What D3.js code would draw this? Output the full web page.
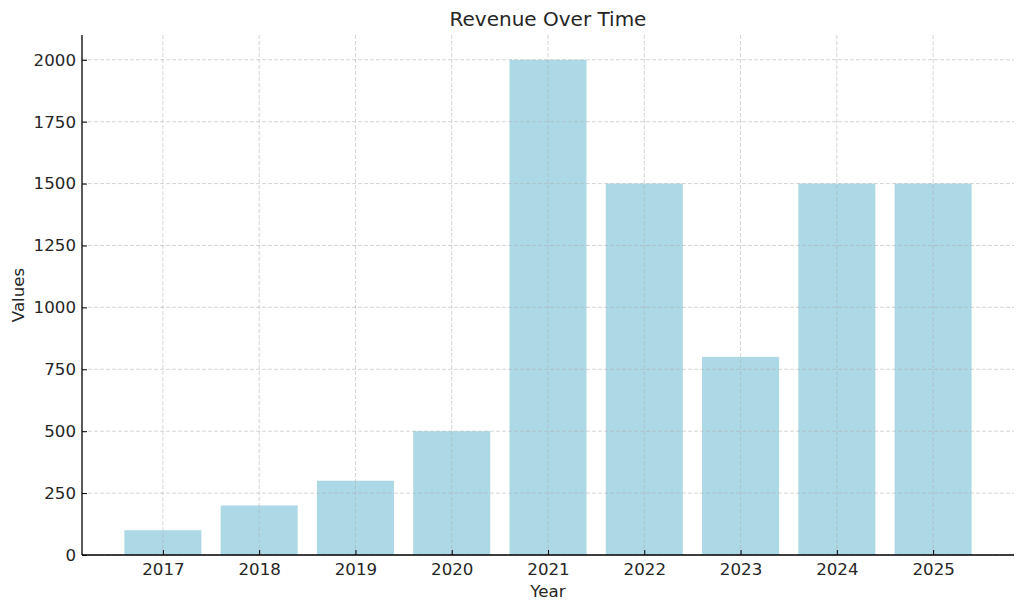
<!DOCTYPE html>
<html>
<head>
<meta charset="utf-8">
<script src="https://cdn.jsdelivr.net/npm/d3@7"></script>
<style>
  html, body { margin: 0; padding: 0; background: #fff; }
  svg { display: block; }
  text { font-family: "DejaVu Sans", sans-serif; fill: #262626; }
</style>
</head>
<body>
<svg id="chart" width="1024" height="611"></svg>
<script>
const years = ["2017", "2018", "2019", "2020", "2021", "2022", "2023", "2024", "2025"];
const revenue = [100, 200, 300, 500, 2000, 1500, 800, 1500, 1500];
const yTicks = [0, 250, 500, 750, 1000, 1250, 1500, 1750, 2000];

const W = 1024, H = 611;
const mLeft = 82, mRight = 1014, mTop = 35, mBottom = 555;
const svg = d3.select("#chart");

// matplotlib-like categorical scale: index-based with margins
const x = d3.scaleLinear().domain([-0.84, years.length - 1 + 0.84]).range([mLeft, mRight]);
const y = d3.scaleLinear().domain([0, 2100]).range([mBottom, mTop]);
const barW = x(0.8) - x(0);

// bars
svg.append("g").selectAll("rect").data(revenue).join("rect")
  .attr("x", (d, i) => x(i) - barW / 2)
  .attr("y", d => y(d))
  .attr("width", barW)
  .attr("height", d => y(0) - y(d))
  .attr("fill", "#add8e6");

// grid (drawn over bars)
const grid = svg.append("g");
grid.selectAll("line.h").data(yTicks).join("line")
  .attr("class", "h")
  .attr("x1", mLeft).attr("x2", mRight)
  .attr("y1", d => y(d)).attr("y2", d => y(d))
  .attr("stroke", "#b0b0b0").attr("stroke-opacity", 0.6)
  .attr("stroke-width", 0.9).attr("stroke-dasharray", "4,2");
grid.selectAll("line.v").data(years).join("line")
  .attr("class", "v")
  .attr("x1", (d, i) => x(i)).attr("x2", (d, i) => x(i))
  .attr("y1", mTop).attr("y2", mBottom)
  .attr("stroke", "#b0b0b0").attr("stroke-opacity", 0.6)
  .attr("stroke-width", 0.9).attr("stroke-dasharray", "4,2");

// axes via d3
const xAxis = d3.axisBottom(x).tickValues(d3.range(years.length))
  .tickFormat(i => years[i]).tickSizeInner(-5).tickSizeOuter(0).tickPadding(8);
const gx = svg.append("g").attr("transform", `translate(0,${mBottom})`).call(xAxis);
gx.select(".domain").remove();
gx.selectAll("line").attr("stroke", "#000").attr("stroke-width", 1);
gx.selectAll("text").attr("font-size", "16.67px").attr("fill", "#262626")
  .attr("font-family", "DejaVu Sans");

const yAxis = d3.axisLeft(y).tickValues(yTicks).tickFormat(d3.format("d"))
  .tickSizeInner(-5).tickSizeOuter(0).tickPadding(6);
const gy = svg.append("g").attr("transform", `translate(${mLeft},0)`).call(yAxis);
gy.select(".domain").remove();
gy.selectAll("line").attr("stroke", "#000").attr("stroke-width", 1);
gy.selectAll("text").attr("font-size", "16.67px").attr("fill", "#262626")
  .attr("font-family", "DejaVu Sans");

// spines (left and bottom only)
svg.append("line").attr("x1", mLeft).attr("x2", mLeft).attr("y1", mTop).attr("y2", mBottom)
  .attr("stroke", "#000").attr("stroke-width", 1.3);
svg.append("line").attr("x1", mLeft).attr("x2", mRight).attr("y1", mBottom).attr("y2", mBottom)
  .attr("stroke", "#000").attr("stroke-width", 1.3);

// title and labels
svg.append("text").attr("x", (mLeft + mRight) / 2).attr("y", 26)
  .attr("text-anchor", "middle").attr("font-size", "20px").text("Revenue Over Time");
svg.append("text").attr("x", (mLeft + mRight) / 2).attr("y", 597)
  .attr("text-anchor", "middle").attr("font-size", "16.67px").text("Year");
svg.append("text").attr("transform", `translate(24,${(mTop + mBottom) / 2}) rotate(-90)`)
  .attr("text-anchor", "middle").attr("font-size", "16.67px").text("Values");
</script>
</body>
</html>
